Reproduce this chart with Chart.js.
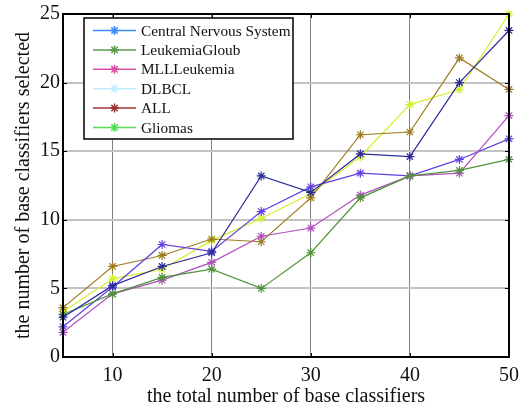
<!DOCTYPE html>
<html>
<head>
<meta charset="utf-8">
<script src="https://cdn.jsdelivr.net/npm/chart.js@4/dist/chart.umd.min.js"></script>
<style>
html,body{margin:0;padding:0;background:#fff;}
#wrap{width:519px;height:406px;position:relative;}
</style>
</head>
<body>
<div id="wrap"><canvas id="c" width="519" height="406"></canvas></div>
<script>
const xValues = [5, 10, 15, 20, 25, 30, 35, 40, 45, 50];
const xTicks = [10, 20, 30, 40, 50];
const yTicks = [0, 5, 10, 15, 20, 25];
const seriesLabels = ["Central Nervous System", "LeukemiaGloub", "MLLLeukemia", "DLBCL", "ALL", "Gliomas"];
const cns      = [2.9, 5.2, 6.6, 7.6, 13.2, 12.0, 14.8, 14.6, 20.0, 23.8];
const leukGl   = [3.1, 4.6, 5.8, 6.4, 5.0, 7.6, 11.6, 13.2, 13.6, 14.4];
const mll      = [1.8, 4.6, 5.6, 6.9, 8.8, 9.4, 11.8, 13.2, 13.4, 17.6];
const dlbcl    = [2.2, 5.1, 8.2, 7.7, 10.6, 12.4, 13.4, 13.2, 14.4, 15.9];
const all      = [3.6, 6.6, 7.4, 8.6, 8.4, 11.6, 16.2, 16.4, 21.8, 19.5];
const gliomas  = [3.3, 5.7, 6.4, 8.5, 10.1, 11.9, 14.6, 18.4, 19.5, 25.0];

const seriesValues = [cns, leukGl, mll, dlbcl, all, gliomas];
const lineColors = ["#2b2b9c", "#4f9438", "#b04ec0", "#6440e0", "#9c7a1c", "#d2f02a"];
const legendColors = ["#3a8cff", "#5c9a4c", "#d64fa4", "#c4ecff", "#9a3434", "#58dc58"];

const datasets = seriesValues.map((vals, i) => ({
  label: seriesLabels[i],
  data: xValues.map((x, j) => ({x: x, y: vals[j]})),
  borderColor: lineColors[i],
  backgroundColor: lineColors[i],
  pointBorderColor: lineColors[i],
  borderWidth: 1.2,
  pointStyle: 'star',
  pointRadius: 4.5,
  pointBorderWidth: 1.2,
  tension: 0,
  clip: false
}));

const FONT = "'Liberation Serif', 'Times New Roman', serif";

const framePlugin = {
  id: 'frame',
  afterDraw(chart) {
    const ctx = chart.ctx;
    const a = chart.chartArea;
    const xs = chart.scales.x, ys = chart.scales.y;
    ctx.save();
    ctx.strokeStyle = '#000';
    ctx.lineWidth = 1;
    ctx.beginPath();
    xTicks.forEach(t => {
      const px = Math.round(xs.getPixelForValue(t)) + 0.5;
      ctx.moveTo(px, a.bottom); ctx.lineTo(px, a.bottom - 4);
      ctx.moveTo(px, a.top); ctx.lineTo(px, a.top + 4);
    });
    yTicks.forEach(t => {
      const py = Math.round(ys.getPixelForValue(t)) + 0.5;
      ctx.moveTo(a.left, py); ctx.lineTo(a.left + 4, py);
      ctx.moveTo(a.right, py); ctx.lineTo(a.right - 4, py);
    });
    ctx.stroke();
    ctx.lineWidth = 2;
    ctx.strokeRect(a.left, a.top, a.right - a.left, a.bottom - a.top);

    const lx = a.left + 21, ly = a.top + 4, lw = 209, lh = 121;
    ctx.fillStyle = '#fff';
    ctx.fillRect(lx, ly, lw, lh);
    ctx.lineWidth = 1.5;
    ctx.strokeStyle = '#000';
    ctx.strokeRect(lx, ly, lw, lh);
    ctx.font = "15.3px " + FONT;
    ctx.textBaseline = 'middle';
    ctx.textAlign = 'left';
    seriesLabels.forEach((lab, i) => {
      const ry = ly + 12.5 + i * 19.4;
      const c = legendColors[i];
      ctx.strokeStyle = c;
      ctx.fillStyle = c;
      ctx.lineWidth = 1.5;
      ctx.beginPath();
      ctx.moveTo(lx + 9, ry); ctx.lineTo(lx + 52, ry);
      ctx.stroke();
      Chart.helpers.drawPoint(ctx, {pointStyle: 'star', radius: 4.5, borderWidth: 1.3}, lx + 30.5, ry);
      ctx.fillStyle = '#111';
      ctx.fillText(lab, lx + 57, ry + 1);
    });
    ctx.restore();
  }
};

new Chart(document.getElementById('c'), {
  type: 'line',
  data: { datasets: datasets },
  options: {
    responsive: false,
    animation: false,
    devicePixelRatio: 1,
    layout: { padding: { top: 14, right: 10, left: 0, bottom: 0 } },
    plugins: {
      legend: { display: false },
      tooltip: { enabled: false }
    },
    scales: {
      x: {
        type: 'linear',
        min: 5, max: 50,
        afterBuildTicks: (s) => { s.ticks = xTicks.map(v => ({value: v})); },
        afterFit: (s) => { s.height = 49; s.paddingLeft = 0; s.paddingRight = 0; },
        grid: { color: '#808080', lineWidth: 1, drawTicks: false },
        border: { display: true, color: '#000', width: 2 },
        ticks: { color: '#111', font: { family: FONT, size: 20 }, padding: 7, maxRotation: 0 },
        title: { display: true, text: 'the total number of base classifiers', color: '#111',
                 font: { family: FONT, size: 20 }, padding: { top: 0, bottom: -3 } }
      },
      y: {
        type: 'linear',
        min: 0, max: 25,
        afterBuildTicks: (s) => { s.ticks = yTicks.map(v => ({value: v})); },
        afterFit: (s) => { s.width = 63; s.paddingTop = 0; s.paddingBottom = 0; },
        grid: { color: '#c4c4c4', lineWidth: 2, drawTicks: false },
        border: { display: true, color: '#000', width: 2 },
        ticks: { color: '#111', font: { family: FONT, size: 20 }, padding: 3 },
        title: { display: true, text: 'the number of base classifiers selected', color: '#111',
                 font: { family: FONT, size: 20 }, padding: { top: 12, bottom: 0 } }
      }
    }
  },
  plugins: [framePlugin]
});
</script>
</body>
</html>
